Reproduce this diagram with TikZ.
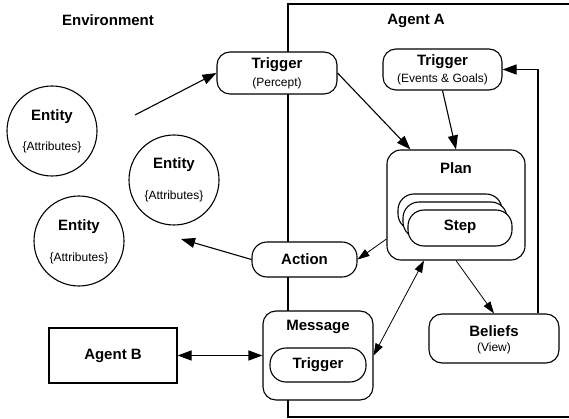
\documentclass[tikz,border=0pt]{standalone}
\usepackage{fontspec}
\setmainfont{Liberation Sans}
\usetikzlibrary{arrows.meta,calc}
\tikzset{
  box/.style={draw, line width=1.1pt, fill=white, rounded corners=#1, inner sep=0pt},
  box/.default=12pt,
  ent/.style={draw, circle, line width=1.1pt, minimum size=90pt, inner sep=0pt},
  bt/.style={font=\fontsize{15}{18}\selectfont\bfseries, inner sep=0pt},
  st/.style={font=\fontsize{12}{14}\selectfont, inner sep=0pt},
  arr/.style={line width=1.1pt, -{Triangle[length=14pt,width=10pt]}},
  thinarr/.style={line width=0.8pt, -{Triangle[length=12pt,width=8pt]}},
  dblarr/.style={line width=1.1pt, {Triangle[length=14pt,width=10pt]}-{Triangle[length=14pt,width=10pt]}},
  thindbl/.style={line width=0.8pt, {Triangle[length=12pt,width=8pt]}-{Triangle[length=12pt,width=8pt]}},
}
\begin{document}
\begin{tikzpicture}[x=1pt,y=-1pt]
\useasboundingbox (0,0) rectangle (569,419);
% Agent A boundary
\draw[line width=1.1pt] (569,4) -- (288,4) -- (288,417) -- (569,417);
\node[bt] (envlab) at (108,20) {Environment};
\node[bt] (agalab) at (416,21) {Agent A};
% entities
\node[ent] (e1) at (52,131) {};
\node[bt] (e1t) at (52,117) {Entity};
\node[st] (e1a) at (52,147) {\{Attributes\}};
\node[ent] (e2) at (174,180) {};
\node[bt] (e2t) at (174,165) {Entity};
\node[st] (e2a) at (174,196) {\{Attributes\}};
\node[ent] (e3) at (79,241) {};
\node[bt] (e3t) at (79,227) {Entity};
\node[st] (e3a) at (79,258) {\{Attributes\}};
% trigger percept
\node[box=13pt, minimum width=120pt, minimum height=42pt] (tp) at (277,73) {};
\node[bt] (tpt) at (277,65) {Trigger};
\node[st] (tps) at (277,83) {(Percept)};
% trigger events & goals
\node[box=13pt, minimum width=119pt, minimum height=41pt] (teg) at (442.5,69.5) {};
\node[bt] (tegt) at (442.5,62) {Trigger};
\node[st] (tegs) at (442.5,79) {(Events \& Goals)};
% plan
\node[box=14pt, minimum width=138pt, minimum height=110pt] (plan) at (456,205) {};
\node[bt] (plant) at (456,168) {Plan};
\node[box=16pt, minimum width=104pt, minimum height=36pt] (s1) at (450,212) {};
\node[box=16pt, minimum width=104pt, minimum height=36pt] (s2) at (455,220) {};
\node[box=16pt, minimum width=104pt, minimum height=36pt] (s3) at (460,228) {};
\node[bt] (s3t) at (460,227) {Step};
% action
\node[box=15pt, minimum width=105pt, minimum height=35pt] (act) at (304.5,259.5) {};
\node[bt] (actt) at (304.5,259.5) {Action};
% message
\node[box=13pt, minimum width=110pt, minimum height=89pt] (msg) at (318,355.5) {};
\node[bt] (msgt) at (318,327) {Message};
\node[box=16pt, minimum width=96pt, minimum height=34pt] (mtr) at (318,365) {};
\node[bt] (mtrt) at (318,365) {Trigger};
% agent B
\node[draw, line width=1.1pt, fill=white, minimum width=128pt, minimum height=55pt] (agb) at (113,355.5) {};
\node[bt] (agbt) at (113,355.5) {Agent B};
% beliefs
\node[box=13pt, minimum width=130pt, minimum height=49pt] (bel) at (494,338.5) {};
\node[bt] (belt) at (494,331) {Beliefs};
\node[st] (bels) at (494,348) {(View)};
% connectors
\coordinate (src) at (135,115);
\coordinate (acttip) at (181,239);
\draw[arr] (src) -- (tp.west);
\draw[arr] (act.west) -- (acttip);
\draw[arr] (tp.east) -- ([xshift=24pt]plan.north west);
\draw[arr] (teg.south) -- (plan.north);
\draw[thinarr] ([yshift=-34pt]plan.west) -- (act.east);
\draw[thindbl] ([xshift=-32pt]plan.south) -- (msg.east);
\draw[thinarr] (plan.south) -- (bel.north);
\draw[arr] ([xshift=44pt]bel.north) |- (teg.east);
\draw[dblarr] (agb.east) -- (msg.west);
\end{tikzpicture}
\end{document}
